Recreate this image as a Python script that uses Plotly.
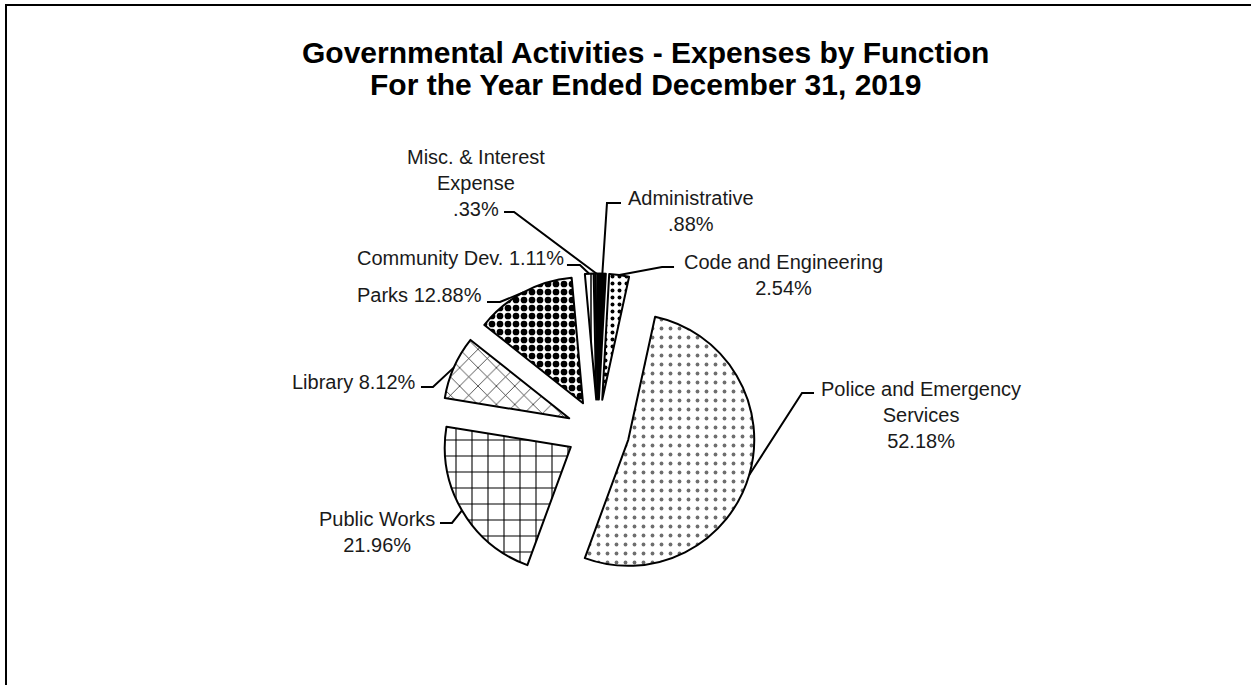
import math
import plotly.graph_objects as go

# ---------------- data ----------------
labels = ["Administrative", "Code and Engineering", "Police and Emergency Services",
          "Public Works", "Library", "Parks", "Community Dev.", "Misc. & Interest Expense"]
values = [0.88, 2.54, 52.18, 21.96, 8.12, 12.88, 1.11, 0.33]
label_texts = [
    "Administrative<br>.88%",
    "Code and Engineering<br>2.54%",
    "Police and Emergency<br>Services<br>52.18%",
    "Public Works<br>21.96%",
    "Library 8.12%",
    "Parks 12.88%",
    "Community Dev. 1.11%",
    "Misc. & Interest<br>Expense<br>.33%",
]
title_lines = ["Governmental Activities - Expenses by Function",
               "For the Year Ended December 31, 2019"]

# ---------------- styling / layout ----------------
W, H = 1251, 685
CX, CY, R = 598.0, 431.0, 126.0   # pie centre and radius in px
PULL = 0.25

pat_shape = ["", ".", ".", "+", "x", ".", "|", "|"]
pat_fg = ["black", "black", "#6e6e6e", "black", "black", "black", "black", "black"]
pat_bg = ["black", "white", "white", "white", "white", "white", "white", "white"]
pat_size = [8, 7, 9, 16, 13, 8, 6, 6]
pat_sol = [0.3, 0.25, 0.14, 0.13, 0.1, 0.55, 0.25, 0.25]
slice_colors = ["black"] + ["white"] * 7

# label placement: (x, y, xanchor) in px, leader path points (elbow, end) in px
label_pos = [
    (691, 211, "center"),
    (783, 275, "center"),
    (921, 415, "center"),
    (377, 532, "center"),
    (418, 382, "right"),
    (484, 295, "right"),
    (566, 258, "right"),
    (476, 183, "center"),
]
leader_pts = [
    [(607, 203), (621, 203)],
    [(662, 267), (674, 267)],
    [(802, 393), (814, 393)],
    [(452, 523), (440, 523)],
    [(433, 387), (421, 387)],
    [(500, 302), (487, 302)],
    [(580, 265), (567, 265)],
    [(514, 212), (504, 212)],
]

half = R * (1 + PULL)
fig = go.Figure(go.Pie(
    labels=labels, values=values, sort=False, direction="clockwise", rotation=0,
    pull=[PULL] * len(values), textinfo="none", hoverinfo="label+percent",
    marker=dict(colors=slice_colors, line=dict(color="black", width=2),
                pattern=dict(shape=pat_shape, fgcolor=pat_fg, bgcolor=pat_bg,
                             size=pat_size, solidity=pat_sol, fillmode="replace")),
    domain=dict(x=[(CX - half) / W, (CX + half) / W],
                y=[1 - (CY + half) / H, 1 - (CY - half) / H]),
    showlegend=False,
))

def px(x, y):
    return x / W, 1 - y / H

total = sum(values)
shapes = []
annotations = []
cum = 0.0
for i, v in enumerate(values):
    theta = math.radians(360.0 * (cum + v / 2) / total)
    cum += v
    sx = CX + (1 + PULL) * R * math.sin(theta)
    sy = CY - (1 + PULL) * R * math.cos(theta)
    pts = [(sx, sy)] + leader_pts[i]
    path = "M " + " L ".join("%.4f,%.4f" % px(x, y) for x, y in pts)
    shapes.append(dict(type="path", xref="paper", yref="paper", path=path,
                       line=dict(color="black", width=2)))
    lx, ly, anc = label_pos[i]
    ax, ay = px(lx, ly)
    annotations.append(dict(x=ax, y=ay, xref="paper", yref="paper", text=label_texts[i],
                            showarrow=False, xanchor=anc, yanchor="middle", align="center",
                            font=dict(family="Liberation Sans, Arial, sans-serif", size=20,
                                      color="#1a1a1a")))

for j, (t, yy) in enumerate(zip(title_lines, [52, 84])):
    ax, ay = px(645, yy)
    annotations.append(dict(x=ax, y=ay, xref="paper", yref="paper", text="<b>%s</b>" % t,
                            showarrow=False, xanchor="center", yanchor="middle",
                            font=dict(family="Liberation Sans, Arial, sans-serif", size=30,
                                      color="black")))

# chart-area border
x0, y0 = px(6, 5)
shapes.append(dict(type="rect", xref="paper", yref="paper", x0=x0, y0=y0, x1=1.05, y1=-0.05,
                   line=dict(color="black", width=2), fillcolor="rgba(0,0,0,0)"))

fig.update_layout(width=W, height=H, margin=dict(l=0, r=0, t=0, b=0),
                  paper_bgcolor="white", plot_bgcolor="white",
                  shapes=shapes, annotations=annotations)
fig.write_html("out.html")
